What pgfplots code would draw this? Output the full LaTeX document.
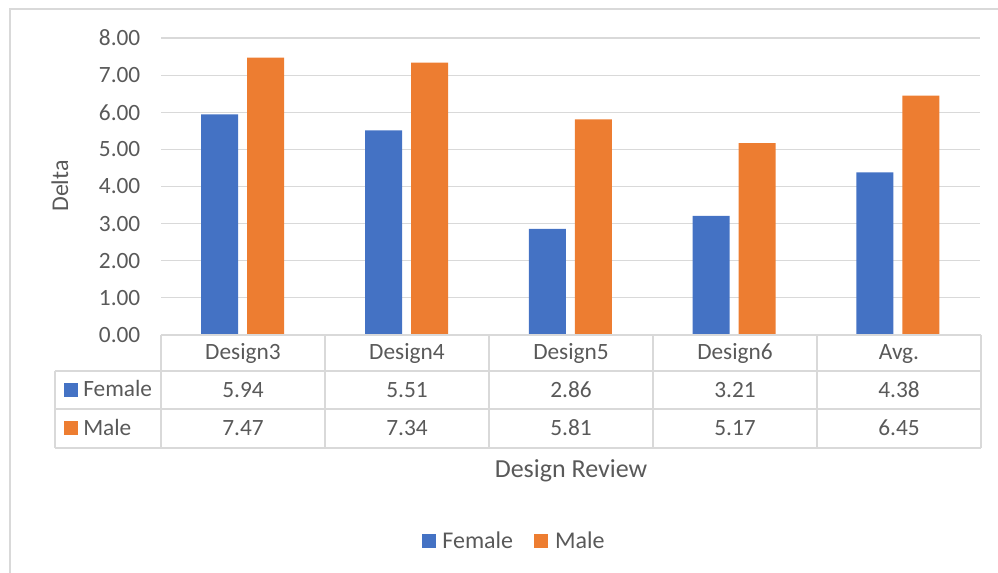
\documentclass[border=0pt]{standalone}
\usepackage{pgfplots}
\pgfplotsset{compat=1.18}
\usepackage{fontspec}
\setmainfont{Carlito}
\definecolor{cblue}{HTML}{4472C4}
\definecolor{corange}{HTML}{ED7D31}
\definecolor{cgrid}{HTML}{D9D9D9}
\definecolor{ctext}{HTML}{595959}
\newcommand{\fs}{\fontsize{17.5pt}{20pt}\selectfont}
\newcommand{\fl}{\fontsize{18pt}{21pt}\selectfont}
\newcommand{\ft}{\fontsize{19.5pt}{22pt}\selectfont}
\pgfplotstableread{
x female male
0 5.94 7.47
1 5.51 7.34
2 2.86 5.81
3 3.21 5.17
4 4.38 6.45
}\datatable
\begin{document}
\begin{tikzpicture}
\begin{axis}[
  at={(120.75pt,178.5pt)}, anchor=south west,
  scale only axis, width=614.25pt, height=222.75pt,
  xmin=-0.5, xmax=4.5, ymin=0, ymax=8,
  ytick={0,1,...,8},
  xtick=\empty,
  axis line style={draw=none},
  ymajorgrids, grid style={cgrid, line width=0.9pt},
  major tick length=0pt,
  /pgf/number format/assume math mode=true,
  yticklabel style={/pgf/number format/.cd, fixed, fixed zerofill, precision=2, /tikz/.cd, font=\fs, text=ctext, xshift=-12pt},
  legend style={at={(0.4316,-0.6936)}, anchor=center, draw=none, fill=none, legend columns=-1, font=\fl, text=ctext,
    /tikz/every odd column/.append style={column sep=3pt},
    /tikz/every even column/.append style={column sep=14pt}},
  legend image code/.code={\fill[#1] (0pt,-5.25pt) rectangle (10.5pt,5.25pt);},
  clip=false,
]
\addplot[ybar, bar width=27.75pt, bar shift=-17.4pt, fill=cblue, draw=none] table[x=x, y=female] {\datatable};
\addlegendentry{Female}
\addplot[ybar, bar width=27.75pt, bar shift=17.1pt, fill=corange, draw=none] table[x=x, y=male] {\datatable};
\addlegendentry{Male}
\end{axis}
\begin{scope}[x=0.75pt,y=-0.75pt,shift={(0,429.75pt)}]
\draw[cgrid, line width=0.9pt] (10,573) -- (10,9) -- (998,9);
% table
\begin{scope}[cgrid, line width=1.2pt]
\draw (161,335) -- (981,335);
\draw (55,371) -- (981,371);
\draw (55,409) -- (981,409);
\draw (55,448) -- (981,448);
\draw (55,371) -- (55,448);
\foreach \xx in {161,325,489,653,817,981} \draw (\xx,335) -- (\xx,448);
\end{scope}
\begin{scope}[every node/.style={font=\fs, text=ctext, anchor=base, inner sep=0pt}]
\node at (243,360) {Design3};
\node at (407,360) {Design4};
\node at (571,360) {Design5};
\node at (735,360) {Design6};
\node at (899,360) {Avg.};
\node at (243,397.5) {5.94};
\node at (407,397.5) {5.51};
\node at (571,397.5) {2.86};
\node at (735,397.5) {3.21};
\node at (899,397.5) {4.38};
\node at (243,435.5) {7.47};
\node at (407,435.5) {7.34};
\node at (571,435.5) {5.81};
\node at (735,435.5) {5.17};
\node at (899,435.5) {6.45};
\node[anchor=base west] at (83,397) {Female};
\node[anchor=base west] at (83,435.5) {Male};
\end{scope}
\fill[cblue] (64,383) rectangle (78,397);
\fill[corange] (64,421.5) rectangle (78,435.5);
\node[font=\ft, text=ctext, anchor=base, inner sep=0pt] at (571,477.5) {Design Review};
\node[font=\fl, text=ctext, anchor=base, inner sep=0pt, rotate=90] at (68,186) {Delta};
\end{scope}
\pgfresetboundingbox
\path[use as bounding box] (0,0) rectangle (748.5pt,429.75pt);
\end{tikzpicture}
\end{document}
